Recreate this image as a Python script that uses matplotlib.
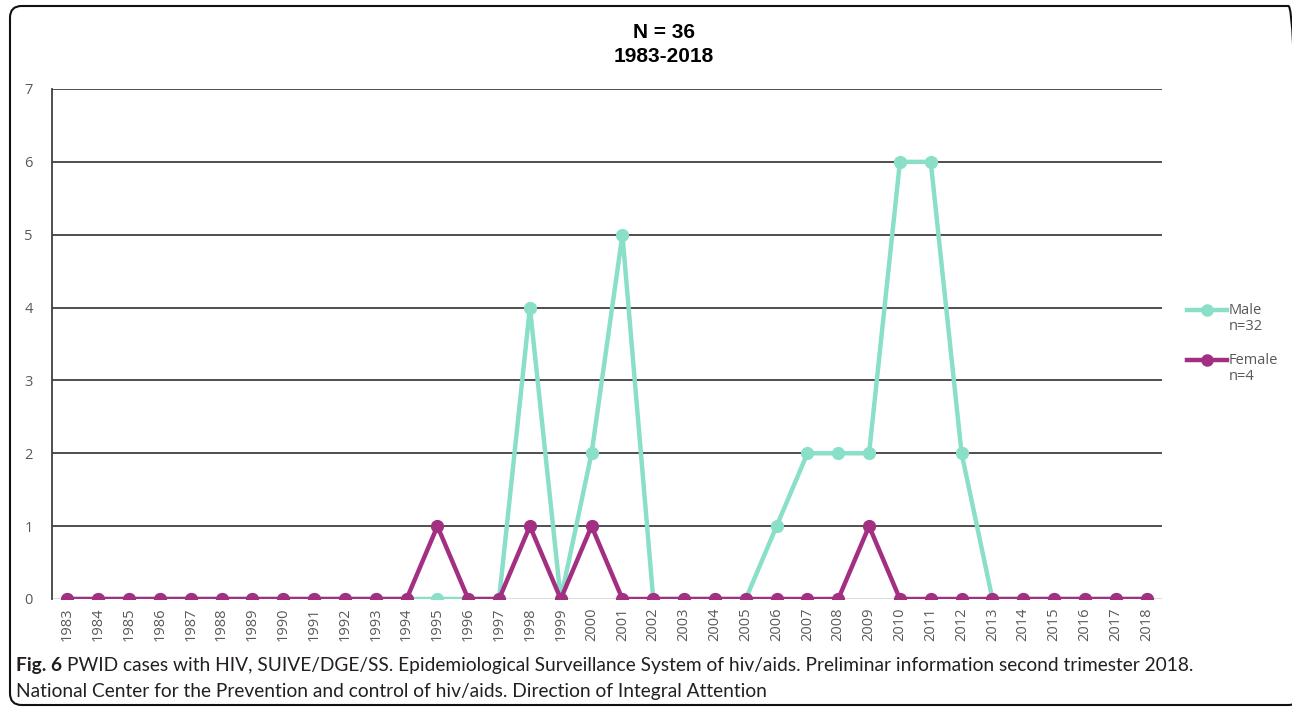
import matplotlib.pyplot as plt
from matplotlib.patches import FancyBboxPatch
from matplotlib.lines import Line2D

# data
years = list(range(1983, 2019))
male = [0, 0, 0, 0, 0, 0, 0, 0, 0, 0, 0, 0, 0, 0, 0, 4, 0, 2, 5, 0,
        0, 0, 0, 1, 2, 2, 2, 6, 6, 2, 0, 0, 0, 0, 0, 0]
female = [0, 0, 0, 0, 0, 0, 0, 0, 0, 0, 0, 0, 1, 0, 0, 1, 0, 1, 0, 0,
          0, 0, 0, 0, 0, 0, 1, 0, 0, 0, 0, 0, 0, 0, 0, 0]
series_names = ['Male', 'Female']
series_counts = ['n=32', 'n=4']
male_col = '#8adfc9'
female_col = '#a22f82'

W, H = 1292, 710
fig = plt.figure(figsize=(12.92, 7.10), dpi=100)
ax = fig.add_axes([52/W, 1-599/H, 1110/W, 510/H])

x = list(range(len(years)))
ax.plot(x, male, color=male_col, lw=3.2, marker='o', ms=8.5, zorder=3)
ax.plot(x, female, color=female_col, lw=3.2, marker='o', ms=8.5, zorder=4)

ax.set_xlim(-0.5, len(years) - 0.5)
ax.set_ylim(0, 7)
ax.set_yticks(range(8))
for v in range(1, 8):
    ax.axhline(v, color='#404040', lw=1.3, zorder=1)
ax.axhline(0, color='#d9d9d9', lw=2, zorder=1)
for s in ['top', 'right', 'bottom']:
    ax.spines[s].set_visible(False)
ax.spines['left'].set_color('#404040')
ax.spines['left'].set_linewidth(1.3)
ax.set_xticks(x)
ax.set_xticklabels([str(y) for y in years], rotation=90)
ax.tick_params(length=0, labelsize=10.5, labelcolor='#595959', pad=6)
for t in ax.get_xticklabels() + ax.get_yticklabels():
    t.set_fontfamily('Open Sans')
ax.tick_params(axis='y', pad=14)

# legend drawn by hand: handle line + two-line label
for i, (col, name, cnt) in enumerate(zip([male_col, female_col], series_names, series_counts)):
    yy = 310 + i * 50
    fig.add_artist(Line2D([1187/W, 1227/W], [1-yy/H, 1-yy/H], color=col, lw=3.2,
                          transform=fig.transFigure))
    fig.add_artist(Line2D([1207/W], [1-yy/H], color=col, marker='o', ms=8, lw=0,
                          transform=fig.transFigure))
    fig.text(1229/W, 1-yy/H, name, ha='left', va='center', fontsize=10.5,
             family='Open Sans', color='#595959')
    fig.text(1229/W, 1-(yy+16)/H, cnt, ha='left', va='center', fontsize=10.5,
             family='Open Sans', color='#595959')

fig.text(664/W, 1-32/H, 'N = 36', ha='center', va='center', fontsize=15,
         fontweight='bold', family='Liberation Sans')
fig.text(664/W, 1-57/H, '1983-2018', ha='center', va='center', fontsize=15,
         fontweight='bold', family='Liberation Sans')

# rounded frame
fig.patches.append(FancyBboxPatch((10/W, 5/H), 1290/W, 699/H,
                                  boxstyle='round,pad=0,rounding_size=0.009',
                                  transform=fig.transFigure, fill=False,
                                  ec='#111111', lw=1.5, mutation_aspect=W/H))

# caption, bold label followed by regular text
cap_font = 'Lato'
cap_size = 13.8
b = fig.text(16/W, 1-666/H, 'Fig. 6', ha='left', va='center', fontsize=cap_size,
             fontweight='bold', family=cap_font, color='#231f20')
fig.canvas.draw()
bb = b.get_window_extent()
fig.text((bb.x1 + 5)/W, 1-666/H,
         'PWID cases with HIV, SUIVE/DGE/SS. Epidemiological Surveillance System of hiv/aids. '
         'Preliminar information second trimester 2018.',
         ha='left', va='center', fontsize=cap_size, family=cap_font, color='#231f20')
fig.text(16/W, 1-691/H,
         'National Center for the Prevention and control of hiv/aids. Direction of Integral Attention',
         ha='left', va='center', fontsize=cap_size, family=cap_font, color='#231f20')

fig.savefig('out.png', dpi=100)
